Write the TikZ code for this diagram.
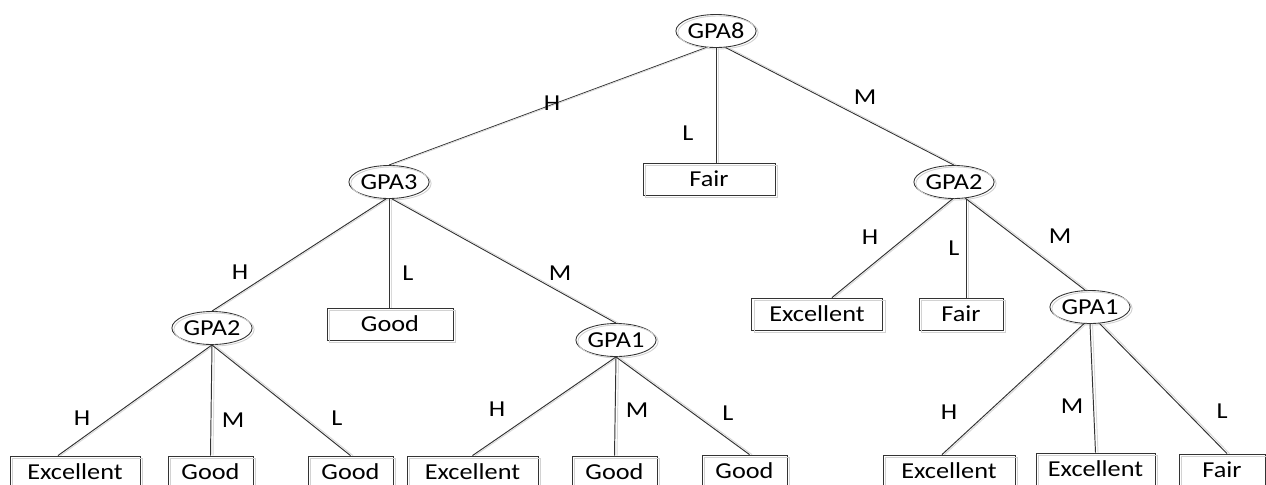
\documentclass[tikz,border=0pt]{standalone}
\usepackage{graphicx}
\usepackage{fontspec}
\setmainfont{Carlito}
\usetikzlibrary{shapes.geometric}
\newcommand\stx[1]{\scalebox{1.15}[1]{#1}}
\tikzset{
  every node/.style={font=\fontsize{13}{15}\selectfont, inner sep=0pt},
  gpa/.style={ellipse, draw=black!80, line width=0.5pt, minimum width=1.44cm, minimum height=0.66cm,
     postaction={draw=gray!35, transform canvas={shift={(0.04cm,-0.03cm)}}}},
  leaf/.style={rectangle, draw=black!80, line width=0.5pt, minimum height=0.64cm,
     postaction={draw=gray!35, transform canvas={shift={(0.05cm,-0.04cm)}}}},
  edge/.style={draw=black!80, line width=0.55pt,
     postaction={draw=gray!30, transform canvas={xshift=0.05cm}}},
  lab/.style={}
}
\begin{document}
\begin{tikzpicture}[x=0.02cm, y=-0.02cm]
\clip (0,0) rectangle (1266,484);
\fill[white] (0,0) rectangle (1266,484);
% internal nodes
\node[gpa] (g8)  at (716,31)  {\stx{GPA8}};
\node[gpa] (g3)  at (389,182) {\stx{GPA3}};
\node[gpa] (g2r) at (954,182) {\stx{GPA2}};
\node[gpa] (g2l) at (212,328) {\stx{GPA2}};
\node[gpa] (g1m) at (616,340) {\stx{GPA1}};
\node[gpa] (g1r) at (1090,307) {\stx{GPA1}};
% leaves
\node[leaf, minimum width=2.64cm] (fT) at (709,179) {\stx{Fair}};
\node[leaf, minimum width=2.52cm] (gM) at (390,324) {\stx{Good}};
\node[leaf, minimum width=2.62cm] (eR) at (817,314) {\stx{Excellent}};
\node[leaf, minimum width=1.68cm] (fR) at (961,314) {\stx{Fair}};
\node[leaf, minimum width=2.60cm] (b1) at (75,472)    {\stx{Excellent}};
\node[leaf, minimum width=1.70cm] (b2) at (210.5,472) {\stx{Good}};
\node[leaf, minimum width=1.70cm] (b3) at (350.5,472) {\stx{Good}};
\node[leaf, minimum width=2.62cm] (b4) at (472.5,472) {\stx{Excellent}};
\node[leaf, minimum width=1.70cm] (b5) at (614.5,472) {\stx{Good}};
\node[leaf, minimum width=1.70cm] (b6) at (744.5,471) {\stx{Good}};
\node[leaf, minimum width=2.64cm] (b7) at (949,471)   {\stx{Excellent}};
\node[leaf, minimum width=2.38cm] (b8) at (1095.5,469) {\stx{Excellent}};
\node[leaf, minimum width=1.72cm] (b9) at (1222,470)  {\stx{Fair}};
% edges
\draw[edge] (g8.-120) -- (g3.north);
\draw[edge] (g8.south) -- (g8.south |- fT.north);
\draw[edge] (g8.-60) -- (g2r.north);
\draw[edge] (g3.-100) -- (g2l.north);
\draw[edge] (g3.south) -- (g3.south |- gM.north);
\draw[edge] (g3.-80) -- (g1m.north);
\draw[edge] (g2r.-95) -- ([xshift=0.3cm]eR.north);
\draw[edge] ([xshift=0.24cm]g2r.south) -- ([xshift=0.24cm]g2r.south |- fR.north);
\draw[edge] (g2r.-55) -- ([xshift=-0.1cm]g1r.north);
\draw[edge] (g2l.south) -- ([xshift=-0.34cm]b1.north);
\draw[edge] (g2l.south) -- (b2.north);
\draw[edge] (g2l.south) -- (b3.north);
\draw[edge] (g1m.south) -- (b4.north);
\draw[edge] (g1m.south) -- (b5.north);
\draw[edge] (g1m.south) -- ([xshift=0.1cm]b6.north);
\draw[edge] (g1r.-110) -- ([xshift=-0.14cm]b7.north);
\draw[edge] (g1r.south) -- (b8.north);
\draw[edge] (g1r.-60) -- ([xshift=0.1cm]b9.north);
% edge labels
\node[lab] (l1) at (552,103) {\stx{H}};
\node[lab] (l2) at (688,133) {\stx{L}};
\node[lab] (l3) at (865,97)  {\stx{M}};
\node[lab] (l4) at (240,272) {\stx{H}};
\node[lab] (l5) at (408,273) {\stx{L}};
\node[lab] (l6) at (560,273) {\stx{M}};
\node[lab] (l7) at (870,237) {\stx{H}};
\node[lab] (l8) at (954,248) {\stx{L}};
\node[lab] (l9) at (1060,236) {\stx{M}};
\node[lab] (l10) at (82,418)  {\stx{H}};
\node[lab] (l11) at (233,420) {\stx{M}};
\node[lab] (l12) at (337,418) {\stx{L}};
\node[lab] (l13) at (497,409) {\stx{H}};
\node[lab] (l14) at (637,410) {\stx{M}};
\node[lab] (l15) at (728,413) {\stx{L}};
\node[lab] (l16) at (949,412) {\stx{H}};
\node[lab] (l17) at (1072,406) {\stx{M}};
\node[lab] (l18) at (1222,411) {\stx{L}};
\end{tikzpicture}
\end{document}
